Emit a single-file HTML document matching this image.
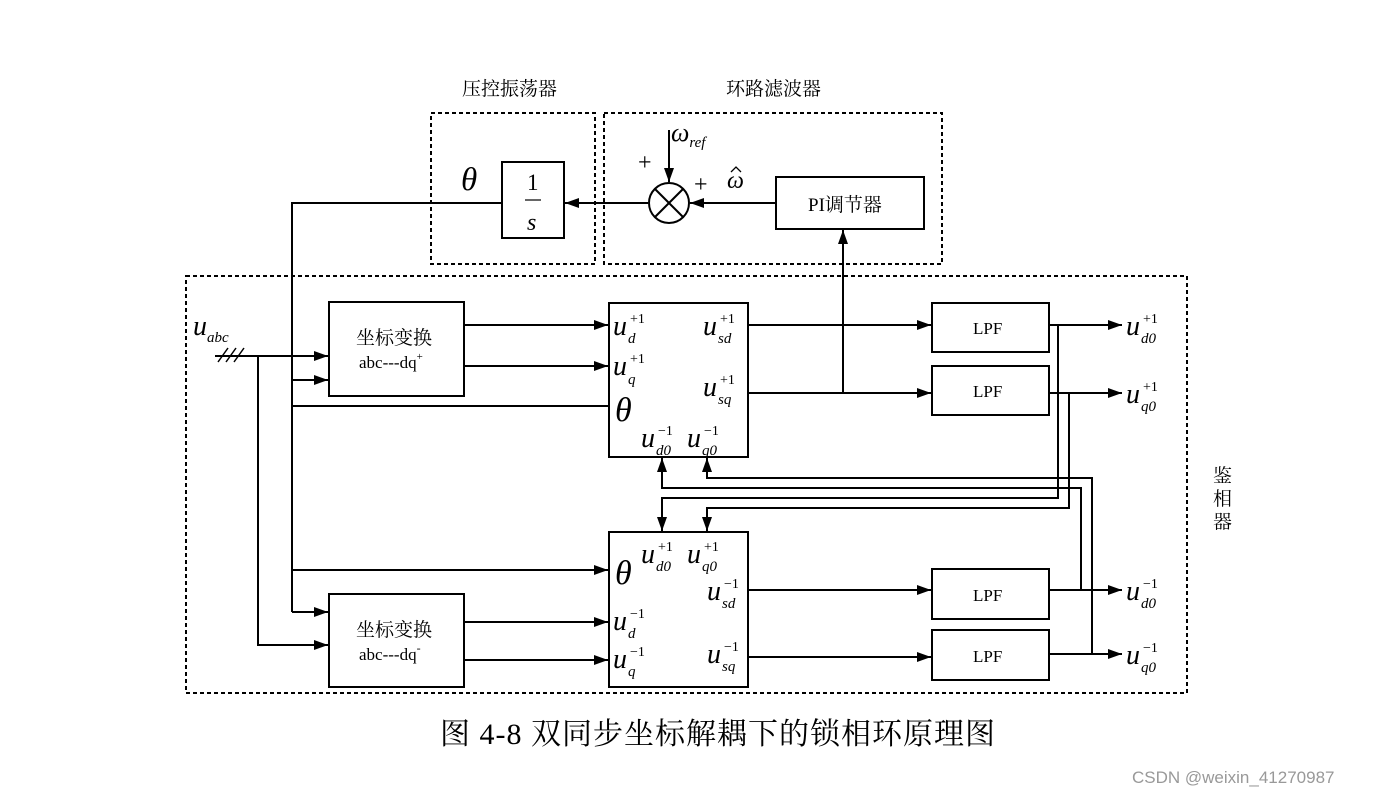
<!DOCTYPE html>
<html><head><meta charset="utf-8"><style>
html,body{margin:0;padding:0;background:#fff;}
svg text{font-family:"Liberation Serif","Noto Serif CJK SC",serif;}
.i{font-style:italic;}
</style></head><body>
<svg width="1373" height="797" viewBox="0 0 1373 797" xmlns="http://www.w3.org/2000/svg">
<defs><marker id="b" markerWidth="14" markerHeight="10" refX="14" refY="5" orient="auto" markerUnits="userSpaceOnUse"><path d="M0,0 L14,5 L0,10 Z" fill="#000"/></marker></defs>
<g fill="none" stroke="#000" stroke-width="2" stroke-dasharray="4,3">
<rect x="431" y="113" width="164" height="151"/>
<rect x="604" y="113" width="338" height="151"/>
<rect x="186" y="276" width="1001" height="417"/>
</g>
<g fill="#fff" stroke="#000" stroke-width="2">
<rect x="502" y="162" width="62" height="76"/>
<rect x="776" y="177" width="148" height="52"/>
<rect x="329" y="302" width="135" height="94"/>
<rect x="329" y="594" width="135" height="93"/>
<rect x="609" y="303" width="139" height="154"/>
<rect x="609" y="532" width="139" height="155"/>
<rect x="932" y="303" width="117" height="49"/>
<rect x="932" y="366" width="117" height="49"/>
<rect x="932" y="569" width="117" height="50"/>
<rect x="932" y="630" width="117" height="50"/>
<circle cx="669" cy="203" r="20"/>
</g>
<g stroke="#000" stroke-width="2" fill="none">
<line x1="655" y1="189" x2="683" y2="217"/><line x1="683" y1="189" x2="655" y2="217"/>
<line x1="776" y1="203" x2="690" y2="203" marker-end="url(#b)"/>
<line x1="648" y1="203" x2="565" y2="203" marker-end="url(#b)"/>
<line x1="669" y1="130" x2="669" y2="182" marker-end="url(#b)"/>
<polyline points="502,203 292,203 292,612"/>
<line x1="292" y1="380" x2="328" y2="380" marker-end="url(#b)"/>
<line x1="292" y1="406" x2="608" y2="406"/>
<line x1="292" y1="570" x2="608" y2="570" marker-end="url(#b)"/>
<line x1="292" y1="612" x2="328" y2="612" marker-end="url(#b)"/>
<line x1="215" y1="356" x2="328" y2="356" marker-end="url(#b)"/>
<polyline points="258,356 258,645 328,645" marker-end="url(#b)"/>
<line x1="464" y1="325" x2="608" y2="325" marker-end="url(#b)"/>
<line x1="464" y1="366" x2="608" y2="366" marker-end="url(#b)"/>
<line x1="464" y1="622" x2="608" y2="622" marker-end="url(#b)"/>
<line x1="464" y1="660" x2="608" y2="660" marker-end="url(#b)"/>
<line x1="748" y1="325" x2="931" y2="325" marker-end="url(#b)"/>
<line x1="748" y1="393" x2="931" y2="393" marker-end="url(#b)"/>
<line x1="748" y1="590" x2="931" y2="590" marker-end="url(#b)"/>
<line x1="748" y1="657" x2="931" y2="657" marker-end="url(#b)"/>
<line x1="843" y1="393" x2="843" y2="230" marker-end="url(#b)"/>
<line x1="1049" y1="325" x2="1122" y2="325" marker-end="url(#b)"/>
<line x1="1049" y1="393" x2="1122" y2="393" marker-end="url(#b)"/>
<line x1="1049" y1="590" x2="1122" y2="590" marker-end="url(#b)"/>
<line x1="1049" y1="654" x2="1122" y2="654" marker-end="url(#b)"/>
<polyline points="1092,654 1092,478 707,478 707,458" marker-end="url(#b)"/>
<polyline points="1081,590 1081,488 662,488 662,458" marker-end="url(#b)"/>
<polyline points="1058,325 1058,498 662,498 662,531" marker-end="url(#b)"/>
<polyline points="1069,393 1069,508 707,508 707,531" marker-end="url(#b)"/>
<line x1="218" y1="362" x2="228" y2="348" stroke-width="1.5"/>
<line x1="226" y1="362" x2="236" y2="348" stroke-width="1.5"/>
<line x1="234" y1="362" x2="244" y2="348" stroke-width="1.5"/>
<line x1="525" y1="200" x2="541" y2="200" stroke-width="1.2"/>
<polyline points="731,172 736,167 741,172" stroke-width="1.3"/>
</g>
<g fill="#000" font-size="19">
<text x="462" y="95">压控振荡器</text>
<text x="726" y="95">环路滤波器</text>
<text x="808" y="211">PI调节器</text>
<text x="1213" y="482">鉴</text><text x="1213" y="505">相</text><text x="1213" y="528">器</text>
<text x="356" y="344">坐标变换</text><text x="359" y="368" font-size="17">abc---dq<tspan font-size="11" dy="-8">+</tspan></text>
<text x="356" y="636">坐标变换</text><text x="359" y="660" font-size="17">abc---dq<tspan font-size="12" dy="-8">-</tspan></text>
<text x="973" y="334" font-size="17">LPF</text><text x="973" y="397" font-size="17">LPF</text>
<text x="973" y="601" font-size="17">LPF</text><text x="973" y="662" font-size="17">LPF</text>
<text x="527" y="190" font-size="23">1</text>
<text x="527" y="230" font-size="24" class="i">s</text>
<text x="461" y="190" font-size="33" class="i">θ</text>
<text x="615" y="421" font-size="34" class="i">θ</text>
<text x="615" y="584" font-size="34" class="i">θ</text>
<text x="638" y="170" font-size="24">+</text><text x="694" y="192" font-size="24">+</text>
<text x="671" y="141" font-size="26" class="i">ω<tspan font-size="15" dy="6">ref</tspan></text>
<text x="727" y="188" font-size="24" class="i">ω</text>
<text x="193" y="335" font-size="28" class="i">u<tspan font-size="15" dy="7">abc</tspan></text>
</g>
<g fill="#000" font-size="28" font-style="italic">
<text x="613" y="335">u</text><text x="630" y="323" font-size="14" font-style="normal">+1</text><text x="628" y="343" font-size="15">d</text>
<text x="613" y="375">u</text><text x="630" y="363" font-size="14" font-style="normal">+1</text><text x="628" y="384" font-size="15">q</text>
<text x="703" y="335">u</text><text x="720" y="323" font-size="14" font-style="normal">+1</text><text x="718" y="343" font-size="15">sd</text>
<text x="703" y="396">u</text><text x="720" y="384" font-size="14" font-style="normal">+1</text><text x="718" y="404" font-size="15">sq</text>
<text x="641" y="447">u</text><text x="658" y="435" font-size="14" font-style="normal">−1</text><text x="656" y="455" font-size="15">d0</text>
<text x="687" y="447">u</text><text x="704" y="435" font-size="14" font-style="normal">−1</text><text x="702" y="455" font-size="15">q0</text>
<text x="641" y="563">u</text><text x="658" y="551" font-size="14" font-style="normal">+1</text><text x="656" y="571" font-size="15">d0</text>
<text x="687" y="563">u</text><text x="704" y="551" font-size="14" font-style="normal">+1</text><text x="702" y="571" font-size="15">q0</text>
<text x="707" y="600">u</text><text x="724" y="588" font-size="14" font-style="normal">−1</text><text x="722" y="608" font-size="15">sd</text>
<text x="613" y="630">u</text><text x="630" y="618" font-size="14" font-style="normal">−1</text><text x="628" y="638" font-size="15">d</text>
<text x="613" y="668">u</text><text x="630" y="656" font-size="14" font-style="normal">−1</text><text x="628" y="676" font-size="15">q</text>
<text x="707" y="663">u</text><text x="724" y="651" font-size="14" font-style="normal">−1</text><text x="722" y="671" font-size="15">sq</text>
<text x="1126" y="335">u</text><text x="1143" y="323" font-size="14" font-style="normal">+1</text><text x="1141" y="343" font-size="15">d0</text>
<text x="1126" y="403">u</text><text x="1143" y="391" font-size="14" font-style="normal">+1</text><text x="1141" y="411" font-size="15">q0</text>
<text x="1126" y="600">u</text><text x="1143" y="588" font-size="14" font-style="normal">−1</text><text x="1141" y="608" font-size="15">d0</text>
<text x="1126" y="664">u</text><text x="1143" y="652" font-size="14" font-style="normal">−1</text><text x="1141" y="672" font-size="15">q0</text>
</g>
<text x="440" y="744" font-size="30" letter-spacing="1" fill="#000">图 4-8  双同步坐标解耦下的锁相环原理图</text>
<text x="1132" y="783" font-size="17" fill="#999" style="font-family:'Liberation Sans',sans-serif">CSDN @weixin_41270987</text>
</svg>
</body></html>
